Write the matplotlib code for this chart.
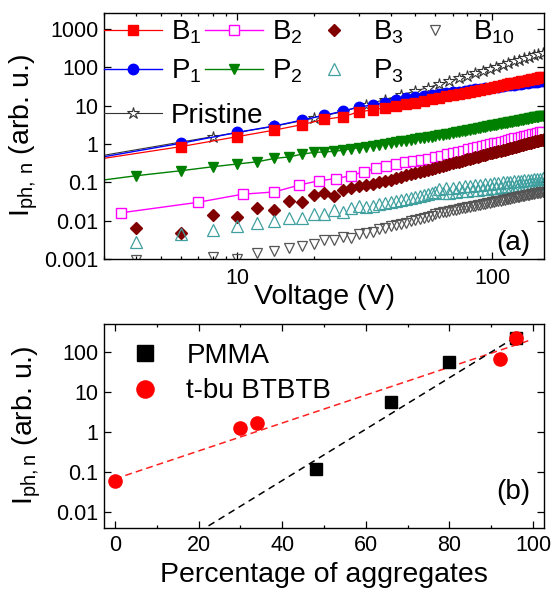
import matplotlib
matplotlib.use('Agg')
import matplotlib.pyplot as plt
from matplotlib.ticker import NullFormatter, MultipleLocator
from matplotlib.lines import Line2D

plt.rcParams['font.family'] = ['Liberation Sans', 'DejaVu Sans']
plt.rcParams['mathtext.default'] = 'regular'
plt.rcParams['font.size'] = 15.5

# ---- panel (a): photocurrent vs voltage ----
# voltage grids of the different measurements
v_every4 = list(range(2, 159, 4))          # B1, P1
v_every6 = list(range(2, 159, 6))          # Pristine
v_every2 = list(range(4, 161, 2))          # B3, P3, B10
v_p2 = list(range(2, 161, 2))              # P2
v_b2 = [3.5 * k for k in range(1, 46)]     # B2

b1 = [0.28, 0.85, 1.55, 2.3, 3.2, 4.4, 5.1, 6.9, 7.7, 8.8, 10.0, 10.8, 12.0, 13.5, 14.5,
      15.9, 17.3, 18.7, 20.1, 21.6, 23.1, 24.7, 26.2, 27.8, 29.4, 31.1, 32.7, 34.4, 36.1,
      37.8, 39.6, 41.3, 43.1, 44.9, 46.7, 48.6, 50.4, 52.3, 54.2, 56.1]
p1 = [0.29, 1.04, 2.0, 2.95, 4.2, 5.6, 7.2, 9.2, 10.4, 12.0, 14.0, 15.5, 16.5, 17.8, 19.0,
      20.1, 21.2, 22.2, 23.3, 24.4, 25.4, 26.4, 27.5, 28.5, 29.5, 30.5, 31.5, 32.5, 33.5,
      34.4, 35.4, 36.4, 37.4, 38.3, 39.3, 40.2, 41.2, 42.1, 43.1, 44.0]
pristine = [0.32, 1.55, 2.9, 4.7, 7.0, 10.5, 14.4, 19.0, 24.0, 29.5, 36.2, 43.7, 51.8,
            60.6, 70.2, 80.4, 91.4, 103, 115, 128, 142, 157, 172, 188, 204, 222, 240]
p2 = [0.081, 0.148, 0.20, 0.254, 0.30, 0.343, 0.42, 0.46, 0.545, 0.60, 0.62, 0.64,
      0.69, 0.75, 0.80, 0.85, 0.91, 0.96, 1.01, 1.07, 1.12, 1.17, 1.23, 1.28, 1.33, 1.39,
      1.44, 1.49, 1.55, 1.60, 1.67, 1.74, 1.80, 1.87, 1.94, 2.01, 2.08, 2.16, 2.23, 2.30,
      2.37, 2.44, 2.52, 2.59, 2.67, 2.74, 2.82, 2.89, 2.97, 3.05, 3.12, 3.20, 3.28, 3.36,
      3.43, 3.51, 3.59, 3.67, 3.75, 3.83, 3.91, 3.99, 4.07, 4.16, 4.24, 4.32, 4.40, 4.49,
      4.57, 4.65, 4.74, 4.82, 4.91, 4.99, 5.08, 5.16, 5.25, 5.33, 5.42, 5.51]
b2 = [0.016, 0.030, 0.049, 0.056, 0.085, 0.11, 0.125, 0.15, 0.19, 0.23, 0.27, 0.30,
      0.33, 0.35, 0.38, 0.41, 0.45, 0.49, 0.54, 0.58, 0.63, 0.67, 0.72, 0.77, 0.82, 0.87,
      0.93, 0.98, 1.04, 1.09, 1.15, 1.21, 1.27, 1.33, 1.39, 1.45, 1.52, 1.58, 1.65, 1.71,
      1.78, 1.85, 1.92, 1.99, 2.06]
b3 = [0.0065, 0.0048, 0.0138, 0.0125, 0.022, 0.019, 0.033, 0.031, 0.047, 0.052, 0.044,
      0.063, 0.070, 0.078, 0.085, 0.093, 0.101, 0.109, 0.118, 0.128, 0.139, 0.151, 0.162,
      0.174, 0.187, 0.200, 0.213, 0.226, 0.240, 0.254, 0.269, 0.283, 0.299, 0.314, 0.330,
      0.346, 0.363, 0.380, 0.397, 0.414, 0.432, 0.450, 0.469, 0.488, 0.507, 0.526, 0.546,
      0.566, 0.587, 0.607, 0.628, 0.650, 0.671, 0.693, 0.715, 0.738, 0.760, 0.784, 0.807,
      0.830, 0.855, 0.879, 0.903, 0.928, 0.953, 0.979, 1.005, 1.030, 1.057, 1.083, 1.110,
      1.137, 1.165, 1.193, 1.220, 1.249, 1.277, 1.306, 1.335]
p3 = [0.0027, 0.0046, 0.0056, 0.0072, 0.0088, 0.0098, 0.0118, 0.0120, 0.0148, 0.0152,
      0.019, 0.017, 0.022, 0.024, 0.023, 0.024, 0.027, 0.029, 0.031, 0.033, 0.035, 0.037,
      0.038, 0.041, 0.043, 0.046, 0.050, 0.053, 0.057,
      0.067, 0.052, 0.070, 0.054, 0.073, 0.056, 0.076, 0.058, 0.078, 0.060, 0.081, 0.062,
      0.084, 0.064, 0.086, 0.066, 0.089, 0.068, 0.092, 0.070, 0.094, 0.072, 0.096, 0.074,
      0.099, 0.076, 0.101, 0.078, 0.104, 0.079, 0.106, 0.081, 0.109, 0.083, 0.111, 0.085,
      0.113, 0.086, 0.115, 0.088, 0.118, 0.090, 0.120, 0.092, 0.122, 0.093, 0.124, 0.095,
      0.127, 0.097]
b10 = [0.00095, 0.0007, 0.0011, 0.00098, 0.00145, 0.0016, 0.0019, 0.0022, 0.0025, 0.0031,
       0.0031, 0.0038, 0.0036, 0.0045, 0.0047, 0.0052, 0.0060, 0.0066, 0.0073, 0.0075,
       0.0080, 0.0089, 0.0095, 0.0102, 0.0110, 0.0118, 0.0125, 0.0135, 0.0148,
       0.0158, 0.0165, 0.0172, 0.0179, 0.0186, 0.0193, 0.0201, 0.0208, 0.0215, 0.0223,
       0.0230, 0.0238, 0.0246, 0.0253, 0.0261, 0.0269, 0.0277, 0.0285, 0.0293, 0.0301,
       0.0309, 0.0318, 0.0326, 0.0334, 0.0343, 0.0351, 0.0360, 0.0368, 0.0377, 0.0385,
       0.0394, 0.0403, 0.0412, 0.0420, 0.0429, 0.0438, 0.0447, 0.0456, 0.0465, 0.0474,
       0.0484, 0.0493, 0.0502, 0.0511, 0.0521, 0.0530, 0.0540, 0.0549, 0.0559, 0.0568]

ya_ticks = [0.001, 0.01, 0.1, 1, 10, 100, 1000]
ya_labels = ['0.001', '0.01', '0.1', '1', '10', '100', '1000']
xa_ticks = [10, 100]
xa_labels = ['10', '100']

# ---- panel (b): photocurrent vs aggregate fraction ----
pmma_x = [48, 66, 80, 96]
pmma_y = [0.12, 5.8, 57, 232]
tbu_x = [0, 30, 34, 92, 96]
tbu_y = [0.06, 1.26, 1.74, 68, 232]
# dashed fit lines, end points
pmma_fit_x = [20, 95.5]
pmma_fit_y = [0.0032, 230]
tbu_fit_x = [0, 99.5]
tbu_fit_y = [0.068, 205]

yb_ticks = [0.01, 0.1, 1, 10, 100]
yb_labels = ['0.01', '0.1', '1', '10', '100']


def style_axes(ax):
    ax.tick_params(which='both', direction='in', top=True, right=True, width=0.9)
    ax.tick_params(which='major', length=5)
    ax.tick_params(which='minor', length=2.5)
    ax.tick_params(axis='x', pad=6.5)
    ax.tick_params(axis='y', pad=4)
    for s in ax.spines.values():
        s.set_linewidth(1.0)


fig = plt.figure(figsize=(5.55, 5.91), dpi=100)
ax1 = fig.add_axes([0.1874, 0.5618, 0.7928, 0.4168])
ax2 = fig.add_axes([0.1874, 0.1071, 0.7928, 0.3455])

# panel (a), back to front
h_p2, = ax1.plot(v_p2, p2, '-v', color='#008000', ms=7.5, lw=1.0, label='P$_2$')
h_b2, = ax1.plot(v_b2, b2, '-s', color='#ff00ff', mfc='white', ms=6.5, mew=1.0, lw=1.0,
                 label='B$_2$')
h_b3, = ax1.plot(v_every2, b3, 'D', color='#800000', ms=6.5, label='B$_3$')
h_p3, = ax1.plot(v_every2, p3, '^', color='#40a0a0', mfc='none', ms=8, mew=0.9,
                 label='P$_3$')
h_b10, = ax1.plot(v_every2, b10, 'v', color='#555555', mfc='none', ms=7.5, mew=0.9,
                  label='B$_{10}$')
h_pr, = ax1.plot(v_every6, pristine, '-*', color='#333333', mfc='white', ms=9, mew=0.8,
                 lw=0.8, label='Pristine')
h_p1, = ax1.plot(v_every4, p1, '-o', color='#0000ff', ms=7.5, lw=1.0, label='P$_1$')
h_b1, = ax1.plot(v_every4, b1, '-s', color='#ff0000', ms=7, lw=0.9, label='B$_1$')

ax1.set_xscale('log')
ax1.set_yscale('log')
ax1.set_xlim(3, 160)
ax1.set_ylim(0.001, 2660)
ax1.set_xticks(xa_ticks)
ax1.set_xticklabels(xa_labels)
ax1.set_yticks(ya_ticks)
ax1.set_yticklabels(ya_labels)
ax1.xaxis.set_minor_formatter(NullFormatter())
ax1.yaxis.set_minor_formatter(NullFormatter())
style_axes(ax1)
ax1.set_xlabel('Voltage (V)', fontsize=20.5)
ax1.xaxis.set_label_coords(0.5, -0.1)
ax1.xaxis.label.set_va('top')
ax1.set_ylabel('I$_{ph,\\,n}$ (arb. u.)', fontsize=20.5)
ax1.yaxis.set_label_coords(-0.145, 0.5)
ax1.text(0.968, 0.065, '(a)', transform=ax1.transAxes, fontsize=20, ha='right',
         va='center')

blank = Line2D([], [], alpha=0)
leg1 = ax1.legend([h_b1, h_p1, h_b2, h_p2, h_b3, h_p3, h_b10, blank],
                  ['B$_1$', 'P$_1$', 'B$_2$', 'P$_2$', 'B$_3$', 'P$_3$', 'B$_{10}$', ''],
                  ncol=4, loc='upper left', bbox_to_anchor=(0, 0.975), frameon=False,
                  fontsize=20, handlelength=2.1, handletextpad=0.32, columnspacing=0.1,
                  borderpad=0, borderaxespad=0, labelspacing=0.42)
ax1.add_artist(leg1)
ax1.legend([h_pr], ['Pristine'], loc='center left', bbox_to_anchor=(0, 0.581),
           frameon=False, fontsize=20, handlelength=2.1, handletextpad=0.32,
           borderpad=0, borderaxespad=0)

# panel (b)
ax2.plot(tbu_fit_x, tbu_fit_y, color='#ff2020', lw=1.1, dashes=(4.5, 2.7))
ax2.plot(pmma_fit_x, pmma_fit_y, color='black', lw=1.1, dashes=(4.5, 3.2))
ax2.plot(pmma_x, pmma_y, 's', color='black', ms=8.5, label='PMMA')
ax2.plot(tbu_x, tbu_y, 'o', color='#ff0000', ms=9.5, label='t-bu BTBTB')

ax2.set_yscale('log')
ax2.set_xlim(-2.6, 102.6)
ax2.set_ylim(0.0041, 525)
ax2.set_xticks(range(0, 101, 20))
ax2.xaxis.set_minor_locator(MultipleLocator(10))
ax2.set_yticks(yb_ticks)
ax2.set_yticklabels(yb_labels)
ax2.yaxis.set_minor_formatter(NullFormatter())
style_axes(ax2)
ax2.tick_params(axis='x', pad=5)
ax2.set_xlabel('Percentage of aggregates', fontsize=20.5)
ax2.xaxis.set_label_coords(0.5, -0.166)
ax2.xaxis.label.set_va('top')
ax2.set_ylabel('I$_{ph,n}$ (arb. u.)', fontsize=20.5)
ax2.yaxis.set_label_coords(-0.139, 0.5)
ax2.text(0.97, 0.176, '(b)', transform=ax2.transAxes, fontsize=20, ha='right',
         va='center')
ax2.legend(loc='upper left', bbox_to_anchor=(0.061, 0.906), frameon=False, fontsize=20,
           handlelength=1.0, handletextpad=1.0, markerscale=1.3, borderpad=0,
           borderaxespad=0, labelspacing=0.35)

fig.savefig('out.png', dpi=100)
